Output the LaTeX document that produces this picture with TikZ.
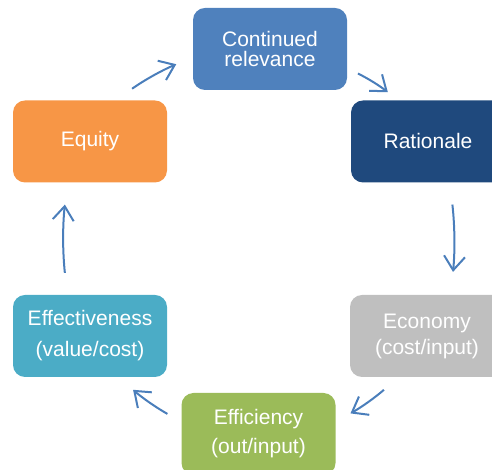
\documentclass[tikz,border=0pt]{standalone}
\usepackage{fontspec}
\setmainfont{Liberation Sans}
\usetikzlibrary{arrows.meta}

\definecolor{relblue}{HTML}{4F81BD}
\definecolor{ratblue}{HTML}{1F497D}
\definecolor{ecogray}{HTML}{BFBFBF}
\definecolor{effgreen}{HTML}{9BBB59}
\definecolor{effcyan}{HTML}{4BACC6}
\definecolor{equorange}{HTML}{F79646}
\definecolor{arrowblue}{HTML}{4A7EBB}

\tikzset{
  box/.style={fill=#1, rounded corners=12pt, minimum width=154pt, minimum height=82pt,
    inner sep=0pt, text=white, align=center, font=\fontsize{21}{20}\selectfont},
  turn/.style={draw=arrowblue, line width=2pt,
    -{Straight Barb[length=14pt,width=21pt,line width=2pt]}}
}

\begin{document}
\begin{tikzpicture}[x=1pt,y=1pt]
    \useasboundingbox (0,0) rectangle (492,470);
    \clip (0,0) rectangle (492,470);
    		\draw (270,421) 	node (cont) [box=relblue] {Continued\\relevance};
    		\draw (428,328.5) 	node (rat) [box=ratblue] {Rationale};
    		\draw (427,134) 	node (econ) [box=ecogray] {Economy\\[6pt](cost/input)};
    		\draw (258.5,36) 	node (eff) [box=effgreen] {Efficiency\\[9pt](out/input)};
    		\draw (90,134) 		node (effect) [box=effcyan] {Effectiveness\\[11pt](value/cost)};
    		\draw (90,328.5) 	node (equity) [box=equorange] {Equity};
    		\draw [turn, shorten <=20pt, shorten >=18pt] (equity.58) to[bend left=6] (cont.186);
    		\draw [turn, shorten <=12pt, shorten >=13pt] (cont.346) to[bend left=6] (rat.126.5);
        \draw [turn, shorten <=22pt, shorten >=23pt] (rat.298) to[bend left=6] (econ.60);
    		\draw [turn, shorten <=19pt, shorten >=17pt] (econ.235) to[bend left=6] (eff.9);
    		\draw [turn, shorten <=16pt, shorten >=19pt] (eff.171) to[bend left=6] (effect.305);
    		\draw [turn, shorten <=22pt, shorten >=22pt] (effect.119) to[bend left=6] (equity.241);
	 \end{tikzpicture}
\end{document}
